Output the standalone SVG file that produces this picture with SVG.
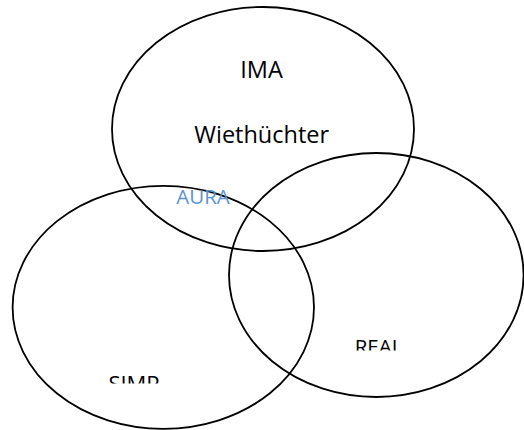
<svg xmlns="http://www.w3.org/2000/svg" width="524" height="430" viewBox="0 0 524 430">
<style>
.ring{fill:none;stroke:#000;stroke-width:1.8}
.lbl{font-family:"Open Sans","Liberation Sans",sans-serif;fill:#000;text-anchor:middle}
.aura{font-family:"Open Sans","Liberation Sans",sans-serif;fill:#5a94cf;text-anchor:middle}
</style>
<defs>
<clipPath id="clipReal"><rect x="300" y="330" width="150" height="20.5"/></clipPath>
<clipPath id="clipSimp"><rect x="60" y="365" width="150" height="18.5"/></clipPath>
</defs>
<rect width="524" height="430" fill="#fff"/>
<g id="connectors"></g>
<g id="ima">
<ellipse class="ring" cx="263" cy="129" rx="151" ry="122"/>
<text class="lbl" x="261.5" y="78" font-size="23.5">IMA</text>
<text class="lbl" x="261.7" y="142.7" font-size="23.5">Wiethüchter</text>
</g>
<g id="simp">
<ellipse class="ring" cx="163.3" cy="307.3" rx="150.7" ry="121.5"/>
<text class="lbl" x="134" y="392" font-size="22" clip-path="url(#clipSimp)">SIMP</text>
</g>
<g id="real">
<ellipse class="ring" cx="376.3" cy="275" rx="147.3" ry="122"/>
<text class="lbl" x="378.5" y="354" font-size="20.5" clip-path="url(#clipReal)">REAL</text>
</g>
<g id="aura">
<text class="aura" x="203" y="204" font-size="20.5">AURA</text>
</g>
</svg>
